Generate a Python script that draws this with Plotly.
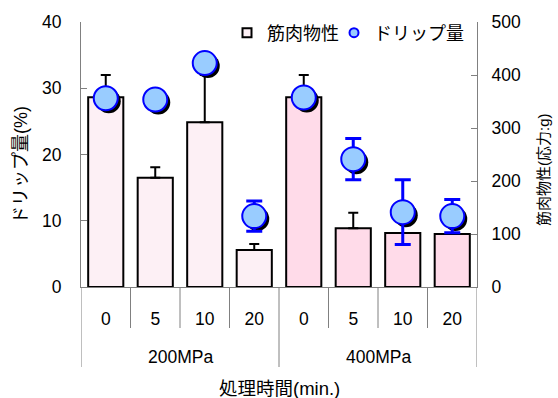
import numpy as np
import plotly.graph_objects as go

# Treatment groups and holding times
pressures = ["200MPa", "400MPa"]
times = ["0", "5", "10", "20"]

# Muscle texture (stress, g) with upper SD
muscle = [358, 206, 311, 70, 358, 111, 102, 100]
muscle_err = [42, 20, 89, 11, 42, 29, None, None]

# Drip loss (%) with SD
drip = [28.5, 28.3, 33.8, 10.7, 28.6, 19.3, 11.3, 10.7]
drip_err = [None, None, None, 2.3, None, 3.1, 4.9, 2.5]

n_t = len(times)
n = len(pressures) * n_t
pos = np.arange(n)
tick_text = times * len(pressures)

FONT = "Liberation Sans, Arial, Noto Sans CJK JP"
GRAY = "#808080"
CIRCLE_FILL = "#99ccff"
CIRCLE_LINE = "#0000ff"
TICK_SIZE = 17.5

# Plot area geometry (px) used for the shadow offset of the circle markers
PLOT_W, PLOT_H = 396, 265
X_RANGE = [-0.5, n - 0.5]
Y_LEFT = [0, 40]
SHADOW_PX = 3
dx = SHADOW_PX * (X_RANGE[1] - X_RANGE[0]) / PLOT_W
dy = SHADOW_PX * (Y_LEFT[1] - Y_LEFT[0]) / PLOT_H

bar_fill = ["#fdf0f5"] * n_t + ["#ffdbe9"] * n_t

fig = go.Figure()

fig.add_trace(go.Bar(
    x=pos, y=muscle, width=0.71, name="筋肉物性", showlegend=False,
    marker=dict(color=bar_fill, line=dict(color="black", width=2)),
    error_y=dict(type="data", array=muscle_err, arrayminus=[0] * n,
                 symmetric=False, color="black", thickness=2, width=5),
    xaxis="x", yaxis="y", hoverinfo="skip",
))

# drop shadow behind the drip-loss circles
fig.add_trace(go.Scatter(
    x=pos, y=drip, mode="markers", showlegend=False, hoverinfo="skip",
    marker=dict(size=24, color="black"),
    xaxis="x2", yaxis="y2",
))

fig.add_trace(go.Scatter(
    x=pos, y=drip, mode="markers", name="ドリップ量", showlegend=False,
    marker=dict(size=24, color=CIRCLE_FILL, line=dict(color=CIRCLE_LINE, width=2)),
    error_y=dict(type="data", array=drip_err, color=CIRCLE_LINE, thickness=3, width=8),
    xaxis="x3", yaxis="y3", hoverinfo="skip",
))

# compact legend keys, one legend box each
fig.add_trace(go.Scatter(
    x=[None], y=[None], mode="markers", name="筋肉物性", legend="legend",
    marker=dict(symbol="square", size=9, color="#fdf0f5", line=dict(color="black", width=2)),
    xaxis="x3", yaxis="y3",
))
fig.add_trace(go.Scatter(
    x=[None], y=[None], mode="markers", name="ドリップ量", legend="legend2",
    marker=dict(symbol="circle", size=9, color=CIRCLE_FILL, line=dict(color=CIRCLE_LINE, width=2)),
    xaxis="x3", yaxis="y3",
))

shapes = []
# short separators between holding times
for g in range(len(pressures)):
    for k in range(1, n_t):
        b = g * n_t + k - 0.5
        shapes.append(dict(type="line", xref="x", yref="paper", x0=b, x1=b,
                           y0=0, y1=-41 / PLOT_H, line=dict(color=GRAY, width=1)))
# long separators between pressure groups
for g in range(len(pressures) + 1):
    b = g * n_t - 0.5
    shapes.append(dict(type="line", xref="x", yref="paper", x0=b, x1=b,
                       y0=0, y1=-80 / PLOT_H, line=dict(color=GRAY, width=1)))

annotations = []
for g, p in enumerate(pressures):
    annotations.append(dict(text=p, xref="x", yref="paper", x=g * n_t + (n_t - 1) / 2,
                            y=-70 / PLOT_H, showarrow=False, yanchor="middle",
                            font=dict(size=TICK_SIZE, color="black")))
annotations += [
    dict(text="処理時間(min.)", xref="paper", yref="paper", x=(279 - 81) / PLOT_W,
         y=-101 / PLOT_H, showarrow=False, yanchor="middle", font=dict(size=18.5)),
    dict(text="ドリップ量(%)", xref="paper", yref="paper", x=(21 - 81) / PLOT_W,
         y=(287 - 165) / PLOT_H, showarrow=False, textangle=-90,
         xanchor="center", yanchor="middle", font=dict(size=18)),
    dict(text="筋肉物性(応力:g)", xref="paper", yref="paper", x=(543 - 81) / PLOT_W,
         y=(287 - 170) / PLOT_H, showarrow=False, textangle=-90,
         xanchor="center", yanchor="middle", font=dict(size=15)),
]

axis_common = dict(showgrid=False, zeroline=False, tickfont=dict(size=TICK_SIZE, color="black"))
legend_common = dict(orientation="h", y=(287 - 33) / PLOT_H, xanchor="left", yanchor="middle",
                     bgcolor="rgba(0,0,0,0)", font=dict(size=18), itemsizing="trace",
                     itemwidth=30)

fig.update_layout(
    width=558, height=398, autosize=False,
    margin=dict(l=81, r=81, t=22, b=111),
    paper_bgcolor="white", plot_bgcolor="white",
    font=dict(family=FONT, size=16, color="black"),
    showlegend=True,
    legend=dict(x=(227 - 81) / PLOT_W, **legend_common),
    legend2=dict(x=(334 - 81) / PLOT_W, **legend_common),
    xaxis=dict(range=X_RANGE, tickvals=pos, ticktext=tick_text, ticks="outside",
               ticklen=16, tickcolor="rgba(0,0,0,0)", showline=True, linecolor=GRAY,
               linewidth=1, **axis_common),
    xaxis2=dict(range=[X_RANGE[0] - dx, X_RANGE[1] - dx], overlaying="x", visible=False),
    xaxis3=dict(range=X_RANGE, overlaying="x", visible=False),
    yaxis=dict(side="right", range=[0, 500], dtick=100, ticks="inside", ticklen=6,
               tickcolor=GRAY, showline=True, linecolor=GRAY, linewidth=1,
               ticklabelstandoff=10, **axis_common),
    yaxis2=dict(range=[Y_LEFT[0] + dy, Y_LEFT[1] + dy], overlaying="y", visible=False),
    yaxis3=dict(range=Y_LEFT, overlaying="y", side="left", anchor="x", dtick=10,
                ticks="inside", ticklen=6, tickcolor=GRAY, showline=True,
                linecolor=GRAY, linewidth=1, ticklabelstandoff=15, **axis_common),
    shapes=shapes,
    annotations=annotations,
)

fig.write_html("out.html")
